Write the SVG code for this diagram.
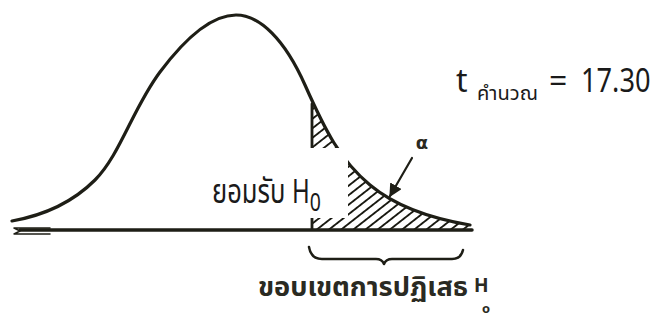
<svg xmlns="http://www.w3.org/2000/svg" width="658" height="320" viewBox="0 0 658 320">
  <defs>
    <style>
      .ink { fill: none; stroke: #1e1e16; stroke-linecap: round; stroke-linejoin: round; }
      .txt { font-family: "Noto Sans Thai", "Noto Sans", "DejaVu Sans", sans-serif; fill: #1a1a1a; }
      .scan { font-family: "Noto Sans Thai", "DejaVu Sans", sans-serif; font-weight: bold; fill: #2a2a22; }
    </style>
    <pattern id="hatch" patternUnits="userSpaceOnUse" width="7.5" height="7.5" patternTransform="rotate(52)">
      <rect width="7.5" height="7.5" fill="#ffffff"/>
      <line x1="0" y1="0" x2="0" y2="7.5" stroke="#1a1a12" stroke-width="3.8"/>
    </pattern>
    <clipPath id="tail">
      <path d="M312,229 L312,100 C320,120 340,160 370,185 S440,220 470,225 L470,229 Z"/>
    </clipPath>
    <marker id="arrow" viewBox="0 0 10 10" refX="9" refY="5" markerWidth="6" markerHeight="6" orient="auto">
      <path d="M0,0 L10,5 L0,10 Z" fill="#1e1e16"/>
    </marker>
  </defs>
  <rect width="658" height="320" fill="#ffffff"/>

  <g id="rejection-area">
    <rect x="300" y="80" width="180" height="150" fill="url(#hatch)" clip-path="url(#tail)"/>
    <line class="ink" x1="312" y1="104" x2="312" y2="229" stroke-width="2.8"/>
  </g>

  <g id="curve">
    <path class="ink" stroke-width="3.2" d="M12,221 C40,216 70,205 95,180 S133,108 160,72 S212,15 236,15 S285,40 305,85 S340,160 370,185 S440,220 470,225"/>
  </g>

  <g id="axis">
    <line class="ink" x1="20" y1="230" x2="472" y2="230" stroke-width="3.5"/>
    <path class="ink" stroke-width="1.5" d="M50,228 L14,228 L20,231 L14,234 L50,234"/>
  </g>

  <g id="connectors">
    <line class="ink" x1="412" y1="158" x2="390" y2="196" stroke-width="2.2" marker-end="url(#arrow)"/>
    <path class="ink" stroke-width="2.5" d="M309,247 Q311,259 322,259 L376,259 Q382,259 384,264 Q386,259 392,259 L452,259 Q461,259 463,250"/>
  </g>

  <g id="alpha">
    <text class="scan" x="422" y="149" font-size="18" text-anchor="middle">α</text>
  </g>

  <g id="accept-label">
    <rect x="190" y="148" width="158" height="70" fill="#ffffff"/>
    <text class="txt" transform="translate(212,203) scale(0.75,1)" font-size="34">ยอมรับ <tspan font-size="32">H</tspan><tspan font-size="26" dy="8">0</tspan></text>
  </g>

  <g id="t-value">
    <text class="txt" x="456" y="92" font-size="32">t</text>
    <text class="txt" x="477" y="100" font-size="19" textLength="61" lengthAdjust="spacingAndGlyphs">คำนวณ</text>
    <text class="txt" x="549" y="92" font-size="32">=</text>
    <text class="txt" transform="translate(581,92) scale(0.85,1)" font-size="32">17.30</text>
  </g>

  <g id="rejection-label">
    <text class="scan" x="258" y="296" font-size="27" textLength="210" lengthAdjust="spacingAndGlyphs">ขอบเขตการปฏิเสธ</text>
    <text class="scan" x="474" y="292" font-size="19">H</text>
    <text class="scan" x="482" y="313" font-size="13">o</text>
  </g>
</svg>
